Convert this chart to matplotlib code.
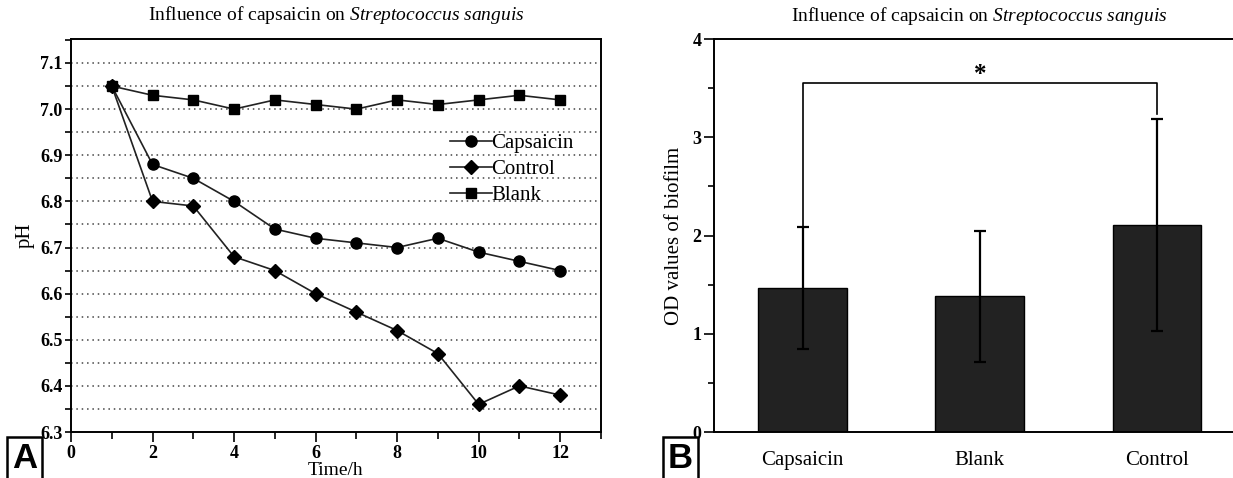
import numpy as np
import matplotlib.pyplot as plt
from matplotlib.ticker import MultipleLocator

plt.rcParams['font.family'] = 'Liberation Serif'
plt.rcParams['mathtext.fontset'] = 'custom'
plt.rcParams['mathtext.rm'] = 'Liberation Serif'
plt.rcParams['mathtext.it'] = 'Liberation Serif:italic'

# panel A: pH over time
hours = [1, 2, 3, 4, 5, 6, 7, 8, 9, 10, 11, 12]
ph_capsaicin = [7.05, 6.88, 6.85, 6.80, 6.74, 6.72, 6.71, 6.70, 6.72, 6.69, 6.67, 6.65]
ph_control = [7.05, 6.80, 6.79, 6.68, 6.65, 6.60, 6.56, 6.52, 6.47, 6.36, 6.40, 6.38]
ph_blank = [7.05, 7.03, 7.02, 7.00, 7.02, 7.01, 7.00, 7.02, 7.01, 7.02, 7.03, 7.02]

# panel B: biofilm OD
groups = ['Capsaicin', 'Blank', 'Control']
od_mean = [1.47, 1.38, 2.11]
od_err = [0.62, 0.67, 1.08]

title = 'Influence of capsaicin on $\\mathit{Streptococcus\\ sanguis}$'

fig = plt.figure(figsize=(12.33, 4.78), dpi=100)

#
# A
#
ax1 = fig.add_axes([0.0576, 0.0962, 0.4298, 0.8222])
for y in np.arange(6.35, 7.11, 0.05):
    ax1.axhline(y, color='#444444', lw=1.1, linestyle=(0, (1, 2.5)), zorder=1)

ax1.plot(hours, ph_capsaicin, c='#222222', lw=1.2, marker='o', ms=8, mfc='black', mec='black', label='Capsaicin', zorder=3)
ax1.plot(hours, ph_control, c='#222222', lw=1.2, marker='D', ms=7, mfc='black', mec='black', label='Control', zorder=3)
ax1.plot(hours, ph_blank, c='#222222', lw=1.2, marker='s', ms=7, mfc='black', mec='black', label='Blank', zorder=3)

ax1.set_xlim(0, 13)
ax1.set_ylim(6.3, 7.152)
ax1.xaxis.set_major_locator(MultipleLocator(2))
ax1.xaxis.set_minor_locator(MultipleLocator(1))
ax1.yaxis.set_minor_locator(MultipleLocator(0.05))
ax1.set_yticks(np.arange(6.3, 7.11, 0.1))
ax1.set_yticklabels(['%.1f' % v for v in np.arange(6.3, 7.11, 0.1)])
ax1.tick_params(axis='x', which='major', direction='out', length=7, width=1.2, pad=2)
ax1.tick_params(axis='x', which='minor', direction='out', length=5, width=1.2)
ax1.tick_params(axis='y', which='both', direction='out', length=4, width=1.2, pad=2)
for lab in ax1.get_xticklabels() + ax1.get_yticklabels():
    lab.set_fontweight('bold')
    lab.set_fontsize(13)
for sp in ax1.spines.values():
    sp.set_linewidth(1.4)

ax1.set_xlabel('Time/h', fontsize=14, labelpad=0)
ax1.set_ylabel('pH', fontsize=15, labelpad=4)
ax1.set_title(title, fontsize=14, pad=14)

ax1.legend(loc='upper left', bbox_to_anchor=(0.715, 0.76), frameon=False, fontsize=15,
           handlelength=2.0, handletextpad=0.0, labelspacing=0.32, borderpad=0, borderaxespad=0)

#
# B
#
x = np.arange(1, len(groups) + 1)
ax2 = fig.add_axes([0.5791, 0.0962, 0.431, 0.8222])
ax2.bar(x, od_mean, 0.5, color='#222222', edgecolor='black', lw=1, zorder=2)
ax2.errorbar(x, od_mean, yerr=od_err, fmt='none', ecolor='black', elinewidth=1.6, capsize=4, capthick=1.6, zorder=3)

# significance bracket
ax2.plot([1, 1, 3, 3], [od_mean[0] + od_err[0], 3.55, 3.55, 3.24], color='black', lw=1.2, zorder=3)
ax2.text(2.0, 3.64, '*', ha='center', va='center', fontsize=18, fontweight='bold')

ax2.set_xlim(0.5, 3.5)
ax2.set_ylim(0, 4)
ax2.set_xticks(x)
ax2.set_xticklabels(groups, fontsize=15)
ax2.yaxis.set_major_locator(MultipleLocator(1))
ax2.yaxis.set_minor_locator(MultipleLocator(0.5))
ax2.tick_params(axis='x', length=0, pad=14)
ax2.tick_params(axis='y', which='major', direction='out', length=7, width=1.2, pad=2)
ax2.tick_params(axis='y', which='minor', direction='out', length=4, width=1.2)
for lab in ax2.get_yticklabels():
    lab.set_fontweight('bold')
    lab.set_fontsize(13)
for sp in ax2.spines.values():
    sp.set_linewidth(1.4)
ax2.set_ylabel('OD values of biofilm', fontsize=15, labelpad=6)
ax2.set_title(title, fontsize=14, pad=13)

# panel letters
for px, letter in [(0.020, 'A'), (0.552, 'B')]:
    fig.text(px, 0.04, letter, fontsize=25, fontweight='bold', family='Liberation Sans',
             ha='center', va='center',
             bbox=dict(boxstyle='square,pad=0.15', fc='white', ec='black', lw=1.8))

plt.savefig('out.png', dpi=100)
